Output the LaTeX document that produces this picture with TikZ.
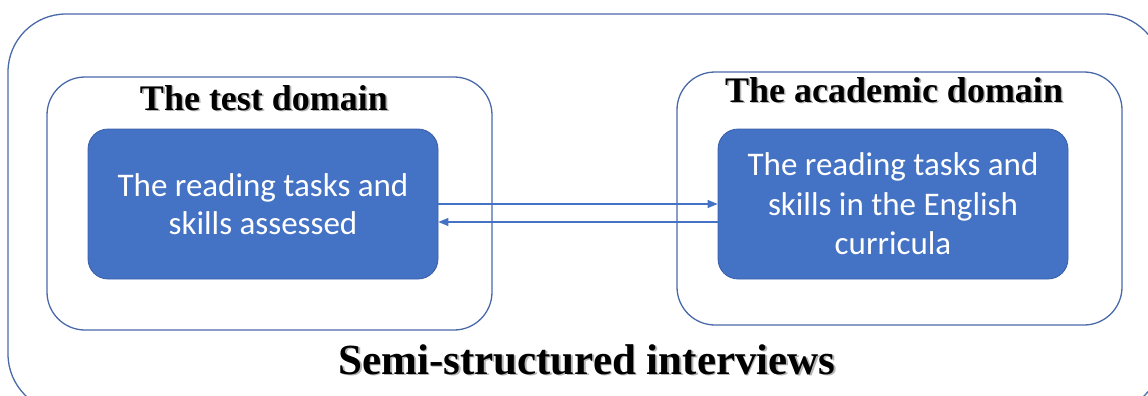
\documentclass[tikz,border=0pt]{standalone}
\usepackage{fontspec}
\setmainfont{Liberation Serif}
\newfontfamily\boxfont{Carlito}
\usetikzlibrary{arrows.meta}
\definecolor{framecol}{HTML}{4A69A8}
\definecolor{boxfill}{HTML}{4472C4}
\definecolor{boxline}{HTML}{3A5FA8}
\definecolor{shadowcol}{HTML}{B4B4B4}
% bold heading with a soft drop shadow behind it
\newcommand\shadowed[1]{\makebox[0pt][l]{\hspace{1.6pt}\raisebox{-1.6pt}{\textcolor{shadowcol}{#1}}}#1}
\tikzset{
  frame/.style={draw=framecol, line width=1.3pt},
  domainbox/.style={frame, rounded corners=38pt},
  taskbox/.style={draw=boxline, line width=0.8pt, fill=boxfill, rounded corners=20pt,
    text=white, align=center, inner sep=0pt,
    minimum width=350pt, minimum height=150pt,
    font=\boxfont\fontsize{33}{39.5}\selectfont},
  heading/.style={anchor=base, inner sep=0pt, font=\bfseries\fontsize{36}{40}\selectfont},
  link/.style={draw=boxfill, line width=1.2pt, -{Triangle[length=10pt,width=8pt]}}
}
\begin{document}
\begin{tikzpicture}[x=1pt, y=-1pt]
  \useasboundingbox (0,0) rectangle (1148,396);
  \clip (0,0) rectangle (1148,396);
  % outer frame (runs past the right and bottom edges)
  \draw[frame, rounded corners=58pt] (8,14) rectangle (1162,412);
  % the two domains
  \draw[domainbox] (47,77) rectangle (492,330);
  \draw[domainbox] (677,72) rectangle (1122,325);
  % task boxes
  \node[taskbox] (lbox) at (263,204)
    {\raisebox{-2pt}{The reading tasks and}\\[1pt]skills assessed};
  \node[taskbox] (rbox) at (893,204)
    {The reading tasks and\\skills in the English\\curricula};
  % headings
  \node[heading] (ltitle) at (264,110) {\shadowed{The test domain}};
  \node[heading] (rtitle) at (894,102) {\shadowed{The academic domain}};
  \node[heading, font=\bfseries\fontsize{43}{46}\selectfont] (ctitle) at (587,374)
    {\shadowed{Semi-structured interviews}};
  % links between the two task boxes
  \draw[link] (lbox.east) -- (rbox.west);
  \draw[link] ([yshift=-18pt]rbox.west) -- ([yshift=-18pt]lbox.east);
\end{tikzpicture}
\end{document}
